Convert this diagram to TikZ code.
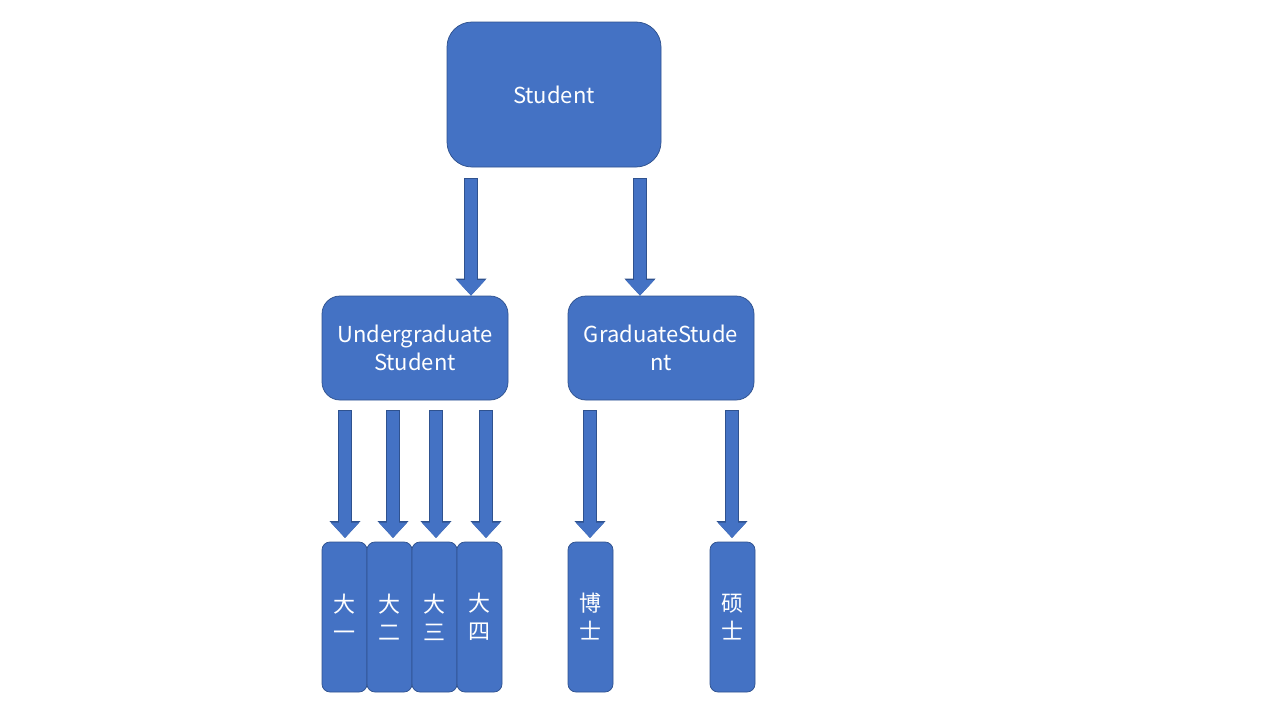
\documentclass[tikz,border=0pt]{standalone}
\usepackage{fontspec}
\setmainfont{Noto Sans CJK SC}
\usetikzlibrary{arrows.meta,positioning}
\definecolor{boxblue}{HTML}{4472C4}
\definecolor{edgeblue}{HTML}{2F528F}

\begin{document}
\begin{tikzpicture}[x=1pt,y=-1pt,thick,
    box/.style={draw=edgeblue,fill=boxblue,text=white,line width=0.75pt,align=center,inner sep=0pt,
        font=\fontsize{22}{28}\selectfont},
    year node/.style={box,outer sep=0pt,rounded corners=8pt,minimum width=45pt,minimum height=150pt},
    arrowrim/.style={edgeblue,line width=13.5pt,-{Triangle[width=30pt,length=17pt]}},
    arrowbody/.style={boxblue,line width=11.5pt,shorten <=0.75pt,-{Triangle[width=27.5pt,length=15.5pt]}}]

    \useasboundingbox (0,0) rectangle (1280,720);

    \node[box,rounded corners=25pt,minimum width=214pt,minimum height=145pt] (stu) at (554,94.5) {Student};
    \node[box,rounded corners=18pt,minimum width=186pt,minimum height=104pt] (ug) at (415,348) {Undergraduate\\Student};
    \node[box,rounded corners=18pt,minimum width=186pt,minimum height=104pt] (gs) at (661,348) {GraduateStude\\nt};

    \node[year node] (y1) at (344.5,617) {大\\一};
    \node[year node] (y2) [right=0pt of y1] {大\\二};
    \node[year node] (y3) [right=0pt of y2] {大\\三};
    \node[year node] (y4) [right=0pt of y3] {大\\四};
    \node[year node] (phd) at (590.5,617) {博\\士};
    \node[year node] (ms) at (732.5,617) {硕\\士};

    % arrow starts
    \coordinate (s1) at (471,178);
    \coordinate (s2) at (640,178);
    \coordinate (u1) at (345,410);
    \coordinate (u2) at (393,410);
    \coordinate (u3) at (436,410);
    \coordinate (u4) at (486,410);
    \coordinate (g1) at (590,410);
    \coordinate (g2) at (732,410);

    \foreach \from/\to in {s1/ug,s2/gs}
        \foreach \sty in {arrowrim,arrowbody}
            \draw[\sty] (\from) -- (\from |- \to.north);
    \foreach \from/\to in {u1/y1,u2/y2,u3/y3,u4/y4,g1/phd,g2/ms}
        \foreach \sty in {arrowrim,arrowbody}
            \draw[\sty,shorten >=4pt] (\from) -- (\from |- \to.north);
\end{tikzpicture}
\end{document}
